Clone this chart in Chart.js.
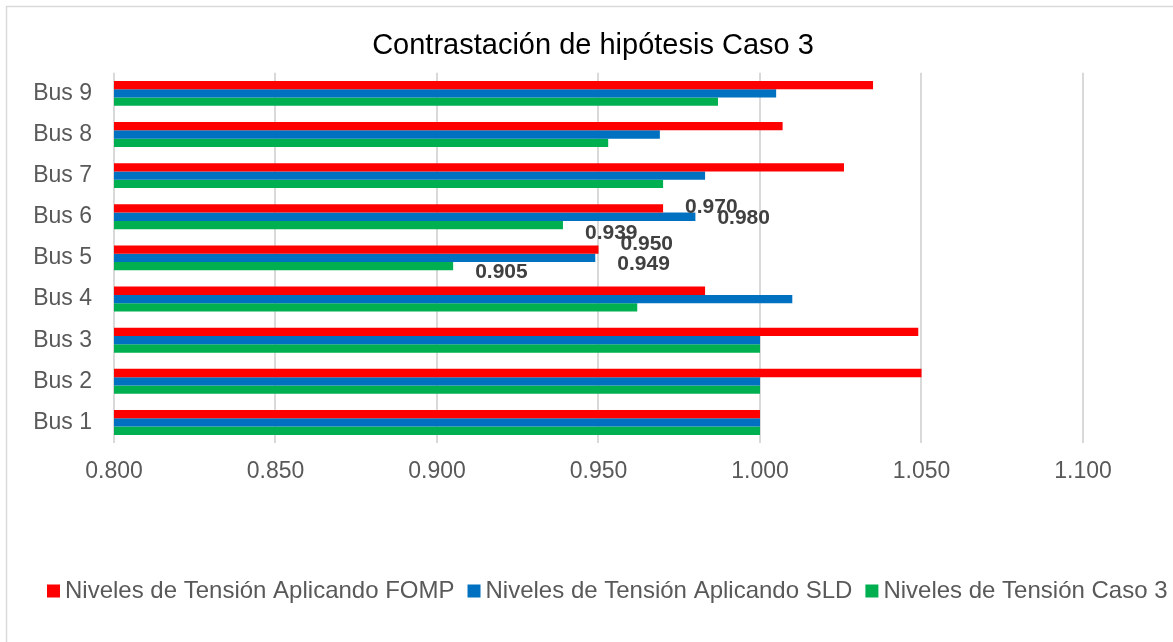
<!DOCTYPE html>
<html>
<head>
<meta charset="utf-8">
<title>Contrastación de hipótesis Caso 3</title>
<script src="https://cdn.jsdelivr.net/npm/chart.js@4/dist/chart.umd.min.js"></script>
<style>
  html, body { margin: 0; padding: 0; background: #ffffff; }
  #wrap { width: 1173px; height: 642px; position: relative; }
</style>
</head>
<body>
<div id="wrap"><canvas id="chart"></canvas></div>
<script>
// Buses, listed top to bottom as they appear on the axis
const buses = ['Bus 9', 'Bus 8', 'Bus 7', 'Bus 6', 'Bus 5', 'Bus 4', 'Bus 3', 'Bus 2', 'Bus 1'];

// Voltage levels (p.u.) per bus
const nivelesFOMP  = [1.035, 1.007, 1.026, 0.970, 0.950, 0.983, 1.049, 1.050, 1.000];
const nivelesSLD   = [1.005, 0.969, 0.983, 0.980, 0.949, 1.010, 1.000, 1.000, 1.000];
const nivelesCaso3 = [0.987, 0.953, 0.970, 0.939, 0.905, 0.962, 1.000, 1.000, 1.000];

// Series names
const seriesNames = [
  'Niveles de Tensión Aplicando FOMP',
  'Niveles de Tensión Aplicando SLD',
  'Niveles de Tensión Caso 3'
];

// Value axis ticks
const xTickValues = [0.800, 0.850, 0.900, 0.950, 1.000, 1.050, 1.100];

const FONT = '"Liberation Sans", Arial, Helvetica, sans-serif';
const colors = ['#FF0000', '#0070C0', '#00B050'];

// Value labels shown next to selected bars (dataset index, bus name, vertical nudge)
const valueLabels = [
  { ds: 0, bus: 'Bus 6', dy: -1 },
  { ds: 1, bus: 'Bus 6', dy: 1 },
  { ds: 2, bus: 'Bus 6', dy: 8 },
  { ds: 0, bus: 'Bus 5', dy: -5 },
  { ds: 1, bus: 'Bus 5', dy: 6 },
  { ds: 2, bus: 'Bus 5', dy: 6 }
];

const frameAndLegend = {
  id: 'frameAndLegend',
  beforeDraw(chart) {
    const ctx = chart.ctx;
    ctx.save();
    ctx.fillStyle = '#ffffff';
    ctx.fillRect(0, 0, chart.width, chart.height);
    ctx.strokeStyle = '#d9d9d9';
    ctx.lineWidth = 1.5;
    ctx.strokeRect(6.5, 6.5, chart.width + 20, chart.height + 20);
    ctx.restore();
  },
  afterDraw(chart) {
    const ctx = chart.ctx;
    ctx.save();
    ctx.font = '24px ' + FONT;
    ctx.textBaseline = 'middle';
    ctx.textAlign = 'left';
    let x = 47;
    const y = 591;
    chart.data.datasets.forEach((ds) => {
      ctx.fillStyle = ds.backgroundColor;
      ctx.fillRect(x, y - 6.5, 13, 13);
      x += 13 + 5;
      ctx.fillStyle = '#595959';
      ctx.fillText(ds.label, x, y);
      x += ctx.measureText(ds.label).width + 13;
    });
    ctx.restore();
  }
};

const barValueLabels = {
  id: 'barValueLabels',
  afterDatasetsDraw(chart) {
    const ctx = chart.ctx;
    ctx.save();
    ctx.font = 'bold 21px ' + FONT;
    ctx.fillStyle = '#404040';
    ctx.textBaseline = 'middle';
    ctx.textAlign = 'left';
    valueLabels.forEach((l) => {
      const idx = chart.data.labels.indexOf(l.bus);
      const bar = chart.getDatasetMeta(l.ds).data[idx];
      const v = chart.data.datasets[l.ds].data[idx];
      ctx.fillText(v.toFixed(3), bar.x + 22, bar.y + l.dy);
    });
    ctx.restore();
  }
};

const seriesData = [nivelesFOMP, nivelesSLD, nivelesCaso3];

new Chart(document.getElementById('chart'), {
  type: 'bar',
  data: {
    labels: buses,
    datasets: seriesData.map((d, i) => ({
      label: seriesNames[i],
      data: d,
      backgroundColor: colors[i],
      borderWidth: 0,
      categoryPercentage: 0.606,
      barPercentage: 1.0
    }))
  },
  options: {
    indexAxis: 'y',
    responsive: true,
    maintainAspectRatio: false,
    animation: false,
    layout: { padding: { left: 13, right: 0, top: 0, bottom: 139 } },
    plugins: {
      legend: { display: false },
      tooltip: { enabled: false },
      title: {
        display: true,
        text: 'Contrastación de hipótesis Caso 3',
        color: '#000000',
        font: { family: FONT, size: 29, weight: 'normal' },
        padding: { top: 29, bottom: 9 }
      }
    },
    scales: {
      x: {
        type: 'linear',
        min: xTickValues[0],
        max: xTickValues[xTickValues.length - 1],
        afterBuildTicks(scale) {
          scale.ticks = xTickValues.map((v) => ({ value: v }));
        },
        afterFit(scale) { scale.height = 60; },
        grid: { color: '#d9d9d9', lineWidth: 2, drawTicks: false },
        border: { display: false },
        ticks: {
          padding: 15,
          color: '#595959',
          font: { family: FONT, size: 23 },
          callback: (v) => Number(v).toFixed(3)
        }
      },
      y: {
        afterFit(scale) { scale.width = 101; },
        grid: { display: false, drawTicks: false },
        border: { display: false },
        ticks: {
          padding: 22,
          color: '#595959',
          font: { family: FONT, size: 23 }
        }
      },
      // empty right-hand margin beside the plot
      yRight: {
        type: 'category',
        position: 'right',
        afterFit(scale) { scale.width = 90; },
        grid: { display: false, drawTicks: false },
        border: { display: false },
        ticks: { display: false }
      }
    }
  },
  plugins: [frameAndLegend, barValueLabels]
});
</script>
</body>
</html>
